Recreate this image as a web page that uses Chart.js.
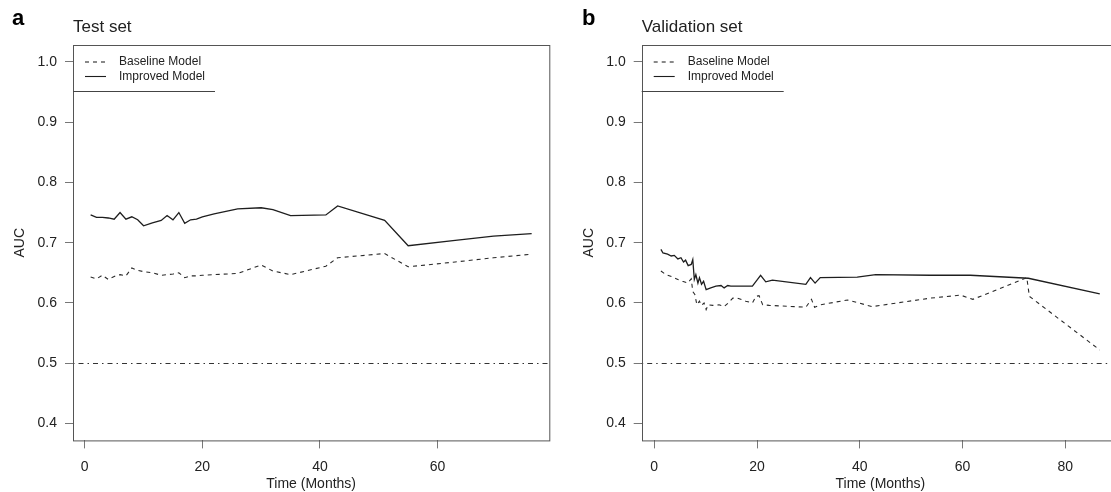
<!DOCTYPE html>
<html>
<head>
<meta charset="utf-8">
<script src="https://cdn.jsdelivr.net/npm/chart.js@4.4.1/dist/chart.umd.min.js"></script>
<style>
  html, body { margin: 0; padding: 0; background: #fff; overflow: hidden; width: 1111px; height: 492px; }
  canvas { position: absolute; top: 0; }
  #panelA { left: 0; }
  #panelB { left: 560px; }
</style>
</head>
<body>
<canvas id="panelA" width="560" height="492"></canvas>
<canvas id="panelB" width="600" height="492"></canvas>
<script>
const FONT = "'Liberation Sans', Arial, Helvetica, sans-serif";
const INK = '#222';

// a: test set
const monthsA = [1, 2, 3, 4, 5, 6, 7, 8, 9, 10, 11.5, 13, 14, 15, 16, 17, 18, 19, 20, 22, 26, 30, 32, 35, 41, 43, 51, 55, 63, 69.5, 76];
const baselineA = [0.643, 0.640, 0.646, 0.639, 0.644, 0.647, 0.645, 0.658, 0.654, 0.652, 0.650, 0.646, 0.647, 0.648, 0.650, 0.642, 0.645, 0.645, 0.646, 0.647, 0.649, 0.663, 0.653, 0.647, 0.661, 0.675, 0.682, 0.660, 0.668, 0.675, 0.681];
const improvedA = [0.746, 0.742, 0.742, 0.741, 0.739, 0.750, 0.739, 0.743, 0.738, 0.728, 0.733, 0.737, 0.745, 0.738, 0.750, 0.732, 0.738, 0.739, 0.743, 0.748, 0.756, 0.758, 0.755, 0.745, 0.746, 0.761, 0.737, 0.695, 0.704, 0.711, 0.715];

// b: validation set
const monthsBaseB = [1.3, 2.3, 3.6, 4.6, 5.5, 6.5, 7.2, 7.5, 7.9, 8.3, 8.8, 9.2, 9.7, 10.1, 10.5, 11.4, 12.6, 13.6, 14.4, 15.3, 16.2, 17.8, 19.1, 19.8, 20.4, 21.1, 22.4, 29.5, 30.6, 31.2, 32.4, 37.6, 42.4, 53.7, 59.6, 62, 72.5, 73, 86.7];
const baselineB = [0.653, 0.647, 0.643, 0.639, 0.636, 0.633, 0.640, 0.619, 0.614, 0.597, 0.603, 0.596, 0.600, 0.589, 0.597, 0.596, 0.597, 0.594, 0.600, 0.608, 0.608, 0.603, 0.600, 0.611, 0.612, 0.597, 0.596, 0.593, 0.606, 0.593, 0.597, 0.605, 0.594, 0.608, 0.613, 0.606, 0.642, 0.611, 0.522];
const monthsImpB = [1.3, 1.7, 2.6, 3.3, 3.9, 4.6, 5.2, 5.7, 6.1, 6.6, 7.2, 7.5, 7.8, 8.1, 8.5, 8.8, 9.2, 9.6, 10.1, 11, 12, 13, 13.6, 14.3, 14.9, 19.1, 20.1, 20.7, 21.7, 23, 29.5, 30.4, 31.3, 32.3, 39.5, 43.1, 53.7, 61.5, 72.8, 86.7];
const improvedB = [0.689, 0.683, 0.681, 0.678, 0.679, 0.673, 0.675, 0.668, 0.671, 0.662, 0.664, 0.672, 0.639, 0.647, 0.633, 0.642, 0.631, 0.636, 0.622, 0.625, 0.628, 0.629, 0.625, 0.629, 0.628, 0.628, 0.639, 0.646, 0.635, 0.638, 0.631, 0.642, 0.633, 0.642, 0.643, 0.647, 0.646, 0.646, 0.641, 0.615];

const aucTicks = [0.4, 0.5, 0.6, 0.7, 0.8, 0.9, 1.0];
const monthTicksA = [0, 20, 40, 60];
const monthTicksB = [0, 20, 40, 60, 80];
const seriesNames = ['Baseline Model', 'Improved Model'];
const chanceLevel = 0.5;

function pts(xs, ys) {
    return xs.map((x, i) => ({ x: x, y: ys[i] }));
}

function series(xBase, yBase, xImp, yImp) {
    return [
        { label: seriesNames[0], data: pts(xBase, yBase), borderColor: '#2a2a2a', borderWidth: 1.1, borderDash: [4, 4] },
        { label: seriesNames[1], data: pts(xImp, yImp), borderColor: '#1e1e1e', borderWidth: 1.3, borderDash: [] }
    ];
}

// box, chance line, legend, titles -- drawn the R way
const decor = {
    id: 'decor',
    afterDraw(chart, args, opts) {
        const { ctx, chartArea: a, scales } = chart;
        ctx.save();

        const y5 = Math.round(scales.y.getPixelForValue(chanceLevel)) + 0.5;
        ctx.strokeStyle = '#333';
        ctx.lineWidth = 1;
        ctx.setLineDash([1.5, 4, 5, 4]);
        ctx.beginPath();
        ctx.moveTo(a.left, y5);
        ctx.lineTo(a.right, y5);
        ctx.stroke();

        ctx.setLineDash([]);
        ctx.strokeStyle = '#555';
        ctx.strokeRect(Math.round(a.left) + 0.5, Math.round(a.top) + 0.5, a.right - a.left, a.bottom - a.top);

        // legend
        ctx.font = '12px ' + FONT;
        ctx.textBaseline = 'middle';
        ctx.fillStyle = INK;
        chart.data.datasets.forEach((ds, i) => {
            const y = a.top + 17 + i * 14.5;
            ctx.strokeStyle = ds.borderColor;
            ctx.lineWidth = 1.1;
            ctx.setLineDash(ds.borderDash);
            ctx.beginPath();
            ctx.moveTo(a.left + 12, y);
            ctx.lineTo(a.left + 33, y);
            ctx.stroke();
            ctx.fillText(ds.label, a.left + 46, y);
        });
        ctx.setLineDash([]);
        ctx.strokeStyle = '#444';
        ctx.lineWidth = 1;
        ctx.beginPath();
        ctx.moveTo(a.left, Math.round(a.top + 45.7) + 0.5);
        ctx.lineTo(a.left + 142, Math.round(a.top + 45.7) + 0.5);
        ctx.stroke();

        // panel title + letter
        ctx.textBaseline = 'alphabetic';
        ctx.font = '17px ' + FONT;
        ctx.fillText(opts.title, a.left, 32);
        ctx.font = 'bold 22px ' + FONT;
        ctx.fillStyle = '#000';
        ctx.fillText(opts.letter, opts.letterX, 25);

        ctx.restore();
    }
};

function makeChart(id, datasets, xMin, xMax, xTicks, title, letter, letterX, padLeft, padRight) {
    const tickFont = { family: FONT, size: 14 };
    const axisGrid = { display: true, drawOnChartArea: false, drawTicks: true, tickLength: 8, color: '#777' };
    return new Chart(document.getElementById(id), {
        type: 'line',
        data: { datasets: datasets },
        plugins: [decor],
        options: {
            responsive: false,
            devicePixelRatio: 1,
            animation: false,
            elements: { point: { radius: 0 }, line: { tension: 0, fill: false } },
            layout: { padding: { left: padLeft, right: padRight, top: 45, bottom: 0 } },
            plugins: {
                legend: { display: false },
                tooltip: { enabled: false },
                decor: { title: title, letter: letter, letterX: letterX }
            },
            scales: {
                x: {
                    type: 'linear',
                    min: xMin,
                    max: xMax,
                    afterBuildTicks: s => { s.ticks = xTicks.map(v => ({ value: v })); },
                    afterFit: s => { s.height = 51.6; },
                    grid: axisGrid,
                    border: { display: false },
                    ticks: { font: tickFont, color: INK, padding: 10, maxRotation: 0, autoSkip: false },
                    title: { display: true, text: 'Time (Months)', color: INK, font: { family: FONT, size: 14, lineHeight: 1 }, padding: { top: 0, bottom: 0.5 } }
                },
                y: {
                    type: 'linear',
                    min: 0.372,
                    max: 1.028,
                    afterBuildTicks: s => { s.ticks = aucTicks.map(v => ({ value: v })); },
                    afterFit: s => { s.width = 73; },
                    grid: axisGrid,
                    border: { display: false },
                    ticks: { font: tickFont, color: INK, padding: 8, callback: v => v.toFixed(1) },
                    title: { display: true, text: 'AUC', color: INK, font: { family: FONT, size: 14, lineHeight: 1 }, padding: { top: 13, bottom: 0 } }
                }
            }
        }
    });
}

makeChart('panelA', series(monthsA, baselineA, monthsA, improvedA), -2, 79, monthTicksA, 'Test set', 'a', 12, 0, 10.7);
makeChart('panelB', series(monthsBaseB, baselineB, monthsImpB, improvedB), -2.44, 90.44, monthTicksB, 'Validation set', 'b', 22, 8.7, 41);
</script>
</body>
</html>
